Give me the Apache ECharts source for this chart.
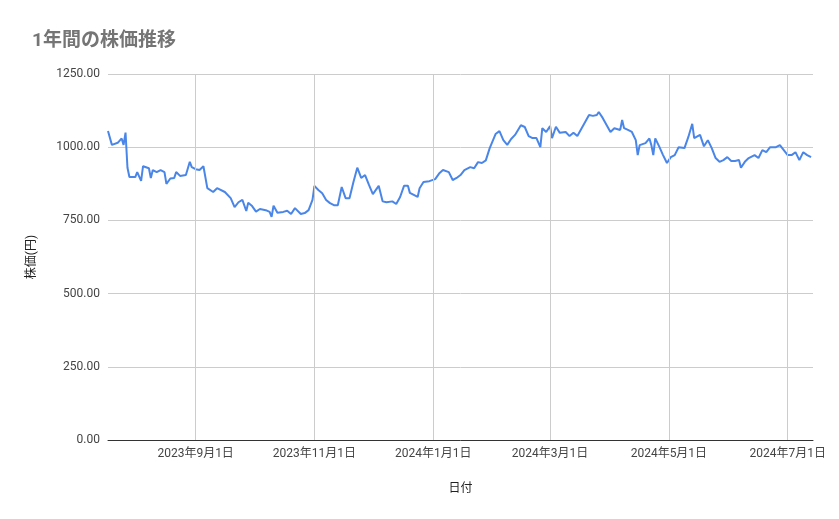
<!DOCTYPE html>
<html>
<head>
<meta charset="utf-8">
<script src="https://cdn.jsdelivr.net/npm/echarts@6/dist/echarts.min.js"></script>
<style>html,body{margin:0;padding:0;background:#fff}#chart-container{width:839px;height:519px}</style>
</head>
<body>
<div id="chart-container"></div>
<script>
// days counted from the first date
var startDate = '2023-07-18';
var dayOffsets = [0,2,5,7,8,9,10,11,14,15,17,18,21,22,23,25,27,29,30,32,34,35,37,40,42,43,45,47,49,51,54,56,60,63,65,67,69,71,72,74,76,78,81,83,84,85,87,90,92,94,96,99,101,103,105,106,108,110,112,114,116,118,120,122,124,126,128,130,132,134,136,139,141,143,146,148,150,152,154,155,157,159,160,162,165,168,170,172,175,177,179,181,183,186,188,190,192,194,196,199,201,203,205,207,209,212,214,216,218,220,222,223,225,227,228,230,232,235,237,239,241,243,245,247,249,251,252,254,256,258,260,263,264,265,267,269,271,272,273,276,278,279,280,281,283,285,287,289,291,293,296,298,300,301,304,306,308,310,312,314,316,318,320,322,324,325,327,329,332,334,336,338,340,343,345,347,349,351,353,355,357,359,361];
var prices = [1055,1008,1015,1030,1008,1050,930,898,898,915,885,935,928,895,922,915,922,915,875,893,895,915,902,905,950,932,925,922,935,860,847,860,847,826,795,812,820,782,810,799,780,789,785,779,762,800,776,779,783,772,792,772,775,785,820,868,854,843,820,809,802,802,864,826,826,880,930,895,905,871,840,868,815,812,815,806,830,868,868,844,837,830,860,881,884,891,910,922,915,888,895,905,922,932,928,949,946,955,997,1045,1055,1024,1008,1028,1042,1075,1069,1038,1031,1031,1000,1065,1052,1072,1031,1070,1049,1052,1038,1049,1038,1062,1086,1110,1107,1110,1120,1100,1076,1052,1065,1059,1093,1065,1059,1052,1024,973,1007,1014,1030,1007,973,1030,1003,973,946,966,973,1000,997,1035,1080,1031,1042,1003,1024,997,963,950,956,966,953,953,956,930,950,963,973,963,990,983,1000,1000,1007,990,973,973,983,956,983,973,966];
var tickDates = ['2023-09-01','2023-11-01','2024-01-01','2024-03-01','2024-05-01','2024-07-01'];

var DAY = 86400000;
var t0 = new Date(startDate + 'T00:00:00').getTime();
var data = dayOffsets.map(function (d, i) { return [t0 + d * DAY, prices[i]]; });
var tickTimes = tickDates.map(function (s) { return new Date(s + 'T00:00:00').getTime(); });

var myChart = echarts.init(document.getElementById('chart-container'), null, { renderer: 'canvas' });
var font = 'Roboto, "Noto Sans CJK JP", sans-serif';

var option = {
  animation: false,
  title: {
    text: '1年間の株価推移', left: 27, top: 27,
    textStyle: { color: '#757575', fontSize: 19, fontWeight: 'bold', fontFamily: font }
  },
  grid: { left: 108, right: 26, top: 74, bottom: 79 },
  xAxis: {
    type: 'time',
    min: t0,
    max: t0 + 362 * DAY,
    name: '日付', nameLocation: 'middle', nameGap: 43,
    nameTextStyle: { color: '#222', fontSize: 12, fontFamily: font },
    axisLine: { lineStyle: { color: '#333' } },
    axisTick: { show: false },
    splitLine: { show: false },
    axisLabel: { show: false }
  },
  yAxis: {
    type: 'value', min: 0, max: 1250, interval: 250,
    name: '株価(円)', nameLocation: 'middle', nameGap: 70,
    nameTextStyle: { color: '#222', fontSize: 12, fontFamily: font },
    axisLine: { show: false }, axisTick: { show: false },
    splitLine: { lineStyle: { color: '#cccccc' } },
    axisLabel: { color: '#444', fontSize: 12, fontFamily: font, formatter: function (v) { return v.toFixed(2); } }
  },
  series: [{
    type: 'line', data: data, showSymbol: false,
    lineStyle: { color: '#4a86e8', width: 2 },
    itemStyle: { color: '#4a86e8' },
    markLine: {
      silent: true, symbol: 'none', animation: false,
      lineStyle: { color: '#cccccc', type: 'solid', width: 1 },
      label: {
        position: 'start', distance: 8, color: '#444', fontSize: 12, fontFamily: font,
        formatter: function (p) {
          var d = new Date(p.value);
          return d.getFullYear() + '年' + (d.getMonth() + 1) + '月' + d.getDate() + '日';
        }
      },
      data: tickTimes.map(function (t) { return { xAxis: t }; })
    }
  }]
};
myChart.setOption(option);
</script>
</body>
</html>
